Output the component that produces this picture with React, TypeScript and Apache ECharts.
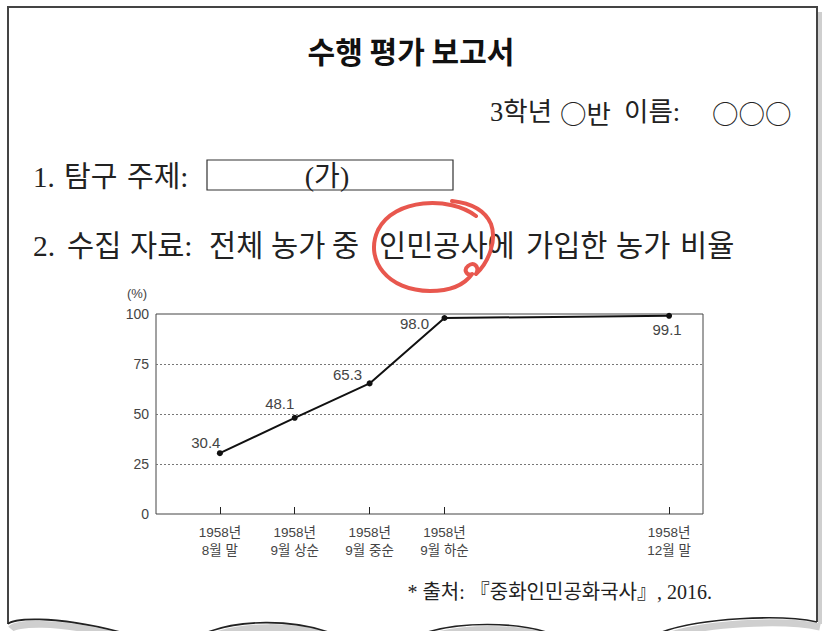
import React, { useEffect, useRef } from "react";
import * as echarts from "echarts";

// ---- data ----
const periodLabels = [
  "1958년\n8월 말",
  "1958년\n9월 상순",
  "1958년\n9월 중순",
  "1958년\n9월 하순",
  "1958년\n12월 말",
];
const periodSlots = [1, 2, 3, 4, 7];
const joinRates = [30.4, 48.1, 65.3, 98.0, 99.1];
const yMin = 0;
const yMax = 100;
const yInterval = 25;

const titleText = "수행 평가 보고서";
const nameWords = ["3학년", "○반", "이름:", "○○○"];
const topicWords = ["1.", "탐구", "주제:"];
const topicBlank = "(가)";
const dataWords = ["2.", "수집", "자료:", "전체", "농가", "중", "인민공사에", "가입한", "농가", "비율"];
const sourceLine = "* 출처: 『중화인민공화국사』, 2016.";
const unitLabel = "(%)";

const SERIF = "'Liberation Serif', 'Noto Sans CJK KR', serif";
const SANS = "'Noto Sans CJK KR', 'Noto Sans', sans-serif";
const CHART_FONT = "'Liberation Sans', 'Noto Sans CJK KR', sans-serif";

let registered = false;
function registerShapes() {
  if (registered) return;
  registered = true;
  echarts.graphic.registerShape(
    "scribble",
    echarts.graphic.extendPath(
      "M 476 216 C 450 196 394 198 378 230 C 364 260 388 291 430 291 C 452 291 465 284 472 274 C 467 276 463 270 468 266 C 474 261 480 267 476 274 C 489 262 497 240 491 224 C 485 210 470 203 452 201",
      {}
    )
  );
  echarts.graphic.registerShape(
    "wave",
    echarts.graphic.extendPath(
      "M 8 624 C 12 619 50 614 120 632 M 208 632 C 240 620 290 619 328 632 M 428 632 C 460 622 515 622 546 632 M 662 632 C 700 618 780 614 817 622",
      {}
    )
  );
}

function wordTexts(words: string[], xs: number[], y: number, size: number, fontFor?: (w: string) => string) {
  return words.map((w, i) => ({
    type: "text",
    x: xs[i],
    y,
    style: {
      text: w,
      fill: "#222",
      font: `normal ${size}px ${fontFor ? fontFor(w) : SERIF}`,
      align: "left",
      verticalAlign: "middle",
    },
  }));
}

export default function App() {
  const ref = useRef<HTMLDivElement>(null);

  useEffect(() => {
    document.body.style.margin = "0";
    registerShapes();
    const chart = echarts.init(ref.current!, null, { renderer: "svg" });

    const labelOffsets = [
      [-14, -11],
      [-15, -14],
      [-22, -9],
      [-30, 5],
      [-2, 14],
    ];

    const seriesData = periodSlots.map((s, i) => ({
      value: [s, joinRates[i]],
      label: { offset: labelOffsets[i] },
    }));

    const nameX = [490, 560, 624, 712];
    const topicX = [33, 64, 127];
    const dataX = [33, 67, 130, 209, 271, 332, 379, 526, 616, 680];

    chart.setOption({
      animation: false,
      backgroundColor: "#ffffff",
      grid: {
        left: 156,
        top: 314,
        width: 547,
        height: 200,
        show: true,
        borderColor: "#444",
        borderWidth: 1,
        backgroundColor: "transparent",
      },
      xAxis: {
        type: "value",
        min: 0.147,
        max: 7.453,
        axisLine: { show: false },
        splitLine: { show: false },
        axisTick: {
          show: true,
          inside: true,
          length: 7,
          customValues: periodSlots,
          lineStyle: { color: "#222", width: 1 },
        },
        axisLabel: {
          customValues: periodSlots,
          formatter: (v: number) => {
            const i = periodSlots.indexOf(Math.round(v));
            return i >= 0 ? periodLabels[i] : "";
          },
          color: "#444",
          fontFamily: CHART_FONT,
          fontSize: 13.5,
          lineHeight: 18,
          margin: 9,
        },
      },
      yAxis: {
        type: "value",
        min: yMin,
        max: yMax,
        interval: yInterval,
        axisLine: { show: false },
        axisTick: { show: false },
        axisLabel: {
          color: "#444",
          fontFamily: CHART_FONT,
          fontSize: 14,
          margin: 7,
        },
        splitLine: {
          show: true,
          showMinLine: false,
          showMaxLine: false,
          lineStyle: { color: "#777", type: [2, 2], width: 1 },
        },
      },
      series: [
        {
          type: "line",
          data: seriesData,
          symbol: "circle",
          symbolSize: 6,
          lineStyle: { color: "#111", width: 2 },
          itemStyle: { color: "#111" },
          label: {
            show: true,
            position: "inside",
            formatter: (p: any) => Number(p.value[1]).toFixed(1),
            color: "#444",
            fontFamily: CHART_FONT,
            fontSize: 15,
          },
          z: 3,
        },
      ],
      graphic: [
        {
          type: "rect",
          shape: { x: 818, y: 12, width: 4, height: 612 },
          style: { fill: "#cfcfcf" },
          silent: true,
        },
        {
          type: "polyline",
          shape: {
            points: [
              [8, 624],
              [8, 7],
              [817, 7],
              [817, 622],
            ],
          },
          style: { stroke: "#444", lineWidth: 2, fill: "none" },
          silent: true,
        },
        {
          type: "wave",
          x: 3,
          y: 5,
          style: { stroke: "#cfcfcf", lineWidth: 7, fill: "none" },
          silent: true,
        },
        {
          type: "wave",
          style: { stroke: "#222", lineWidth: 1.6, fill: "none" },
          silent: true,
        },
        {
          type: "text",
          x: 411,
          y: 50,
          style: {
            text: titleText,
            fill: "#111",
            font: `bold 30px ${SANS}`,
            align: "center",
            verticalAlign: "middle",
          },
        },
        ...wordTexts(nameWords, nameX, 112, 26.5, (w) => (w.includes("○") ? SANS : SERIF)),
        ...wordTexts(topicWords, topicX, 177, 29),
        {
          type: "rect",
          shape: { x: 207, y: 160, width: 246, height: 30 },
          style: { fill: "none", stroke: "#333", lineWidth: 1.2 },
        },
        {
          type: "text",
          x: 327,
          y: 176,
          style: {
            text: topicBlank,
            fill: "#222",
            font: `normal 28px ${SERIF}`,
            align: "center",
            verticalAlign: "middle",
          },
        },
        ...wordTexts(dataWords, dataX, 246, 29.5),
        {
          type: "scribble",
          style: {
            stroke: "#e8574e",
            lineWidth: 4,
            fill: "none",
            lineCap: "round",
            lineJoin: "round",
          },
          silent: true,
        },
        {
          type: "text",
          x: 137,
          y: 293,
          style: {
            text: unitLabel,
            fill: "#444",
            font: `normal 13px ${CHART_FONT}`,
            align: "center",
            verticalAlign: "middle",
          },
        },
        {
          type: "text",
          x: 712,
          y: 592,
          style: {
            text: sourceLine,
            fill: "#222",
            font: `normal 20px ${SERIF}`,
            align: "right",
            verticalAlign: "middle",
          },
        },
      ],
    });

    return () => chart.dispose();
  }, []);

  return <div ref={ref} style={{ width: 822, height: 631 }} />;
}
